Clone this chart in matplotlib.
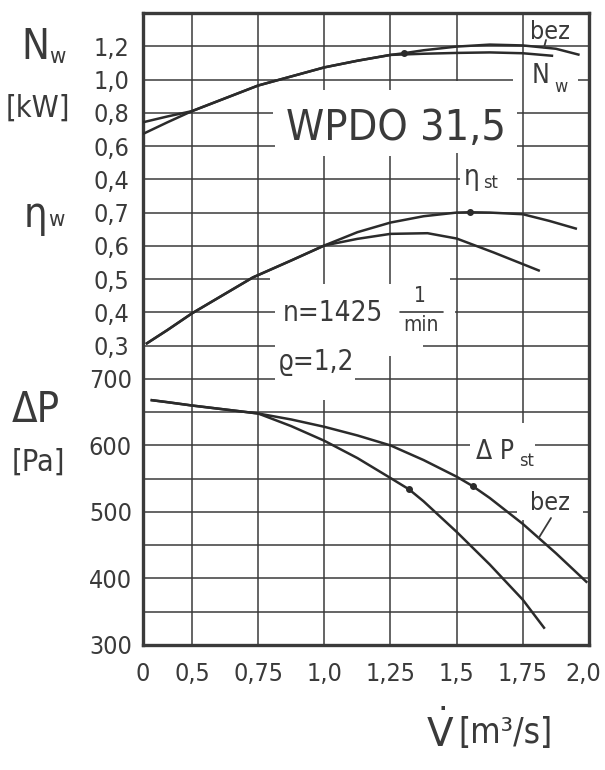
import os
import numpy as np
import matplotlib
matplotlib.use("Agg")
import matplotlib.pyplot as plt
import matplotlib.transforms as mtrans
from matplotlib import font_manager as fm

# ---------------- data ----------------
x_ticks = [0, 0.5, 0.75, 1.0, 1.25, 1.5, 1.75, 2.0]
x_tick_labels = ["0", "0,5", "0,75", "1,0", "1,25", "1,5", "1,75", "2,0"]

n_ticks = [0.4, 0.6, 0.8, 1.0, 1.2]
n_tick_labels = ["0,4", "0,6", "0,8", "1,0", "1,2"]
eta_ticks = [0.3, 0.4, 0.5, 0.6, 0.7]
eta_tick_labels = ["0,3", "0,4", "0,5", "0,6", "0,7"]
dp_ticks = [300, 400, 500, 600, 700]
dp_tick_labels = ["300", "400", "500", "600", "700"]

# power N_w [kW]
V_n_bez = [0.0, 0.25, 0.5, 0.75, 1.0, 1.125, 1.25, 1.3, 1.375, 1.5, 1.625, 1.75, 1.875, 1.96]
N_bez = [0.673, 0.743, 0.81, 0.964, 1.073, 1.113, 1.148, 1.158, 1.176, 1.198, 1.210, 1.205, 1.185, 1.150]
V_n = [0.0, 0.25, 0.5, 0.75, 1.0, 1.125, 1.25, 1.375, 1.5, 1.625, 1.75, 1.86]
N_w = [0.743, 0.778, 0.81, 0.964, 1.073, 1.113, 1.148, 1.155, 1.160, 1.163, 1.158, 1.143]

# efficiency
V_eta_st = [0.04, 0.25, 0.5, 0.73, 0.875, 1.0, 1.125, 1.25, 1.375, 1.5, 1.55, 1.625, 1.75, 1.85, 1.95]
eta_st = [0.307, 0.347, 0.397, 0.505, 0.556, 0.601, 0.641, 0.670, 0.689, 0.700, 0.701, 0.700, 0.695, 0.675, 0.652]
V_eta = [0.04, 0.25, 0.5, 0.73, 0.875, 1.0, 1.125, 1.25, 1.39, 1.5, 1.64, 1.81]
eta_w = [0.307, 0.347, 0.397, 0.505, 0.556, 0.601, 0.621, 0.636, 0.638, 0.622, 0.580, 0.526]

# pressure [Pa]
V_dp_bez = [0.09, 0.25, 0.5, 0.75, 0.875, 1.0, 1.125, 1.25, 1.375, 1.5, 1.56, 1.625, 1.75, 1.875, 1.99]
dp_bez = [668, 665, 660, 648, 639, 628, 615, 600, 578, 553, 539, 521, 482, 438, 395]
V_dp_st = [0.09, 0.25, 0.5, 0.75, 0.875, 1.0, 1.125, 1.25, 1.32, 1.375, 1.5, 1.625, 1.75, 1.83]
dp_st = [668, 665, 660, 648, 629, 607, 581, 551, 534, 516, 470, 421, 368, 326]

# ---------------- fonts ----------------
def find_font():
    prefs = ["dejavusanscondensed.ttf", "liberationsansnarrow-regular.ttf",
             "robotocondensed-regular.ttf", "roboto_condensed-regular.ttf"]
    files = set(f.fname for f in fm.fontManager.ttflist)
    try:
        files |= set(fm.findSystemFonts())
    except Exception:
        pass
    by = {os.path.basename(p).lower(): p for p in files}
    for p in prefs:
        if p in by:
            return by[p]
    return None

FONT_FILE = find_font()

def fp(size):
    if FONT_FILE:
        return fm.FontProperties(fname=FONT_FILE, size=size)
    return fm.FontProperties(family="DejaVu Sans", stretch="condensed", size=size)

INK = "#3a3a3a"
LINE = "#2b2b2b"
W, H = 605, 770

fig = plt.figure(figsize=(W / 100, H / 100), dpi=100)
fig.patch.set_facecolor("white")
rect = [143 / W, 1 - 645 / H, (589 - 143) / W, (645 - 13) / H]

def fwd(v):
    v = np.asarray(v, dtype=float)
    return np.where(v < 0.5, v * 0.37, v - 0.315)

def inv(u):
    u = np.asarray(u, dtype=float)
    return np.where(u < 0.185, u / 0.37, u + 0.315)

ax_p = fig.add_axes(rect)
ax_p.set_xscale("function", functions=(fwd, inv))
ax_p.set_xlim(0, 2.0)
ax_p.set_ylim(300, 1250)
ax_eta = fig.add_axes(rect, sharex=ax_p)
ax_eta.set_ylim(-0.6, 1.3)
ax_n = fig.add_axes(rect, sharex=ax_p)
ax_n.set_ylim(-2.4, 1.4)

for a in (ax_eta, ax_n):
    a.patch.set_visible(False)
    for s in a.spines.values():
        s.set_visible(False)
    a.tick_params(axis="x", bottom=False, labelbottom=False)
    a.tick_params(axis="y", length=0, pad=10, colors=INK)

for s in ax_p.spines.values():
    s.set_linewidth(2.4)
    s.set_color(INK)
ax_p.tick_params(axis="both", length=0, colors=INK)
ax_p.tick_params(axis="y", pad=8)
ax_p.tick_params(axis="x", pad=12)

TICK = 18
ax_p.set_xticks(x_ticks, x_tick_labels, fontproperties=fp(TICK))
ax_p.set_yticks(dp_ticks, dp_tick_labels, fontproperties=fp(TICK))
ax_eta.set_yticks(eta_ticks, eta_tick_labels, fontproperties=fp(TICK))
ax_n.set_yticks(n_ticks, n_tick_labels, fontproperties=fp(TICK))
last = ax_p.get_xticklabels()[-1]
last.set_transform(last.get_transform() + mtrans.ScaledTranslation(-0.06, 0, fig.dpi_scale_trans))

# ---------------- grid with gaps behind labels ----------------
def segments(lo, hi, gaps):
    out, cur = [], lo
    for a, b in sorted(gaps):
        out.append((cur, a))
        cur = b
    out.append((cur, hi))
    return out

hgaps = {1150: [(1.713, 1.958)], 1100: [(0.806, 1.728)], 1050: [(0.814, 1.728)],
         1000: [(1.512, 1.728)], 850: [(0.795, 1.475)], 800: [(0.814, 1.494)],
         750: [(0.814, 1.373)], 700: [(0.814, 1.116)], 600: [(1.55, 1.796)],
         500: [(1.728, 1.977)]}
vgaps = {1.0: [(668, 843), (1035, 1135)], 1.25: [(735, 843), (1035, 1135)],
         1.5: [(1039, 1148)], 1.75: [(488, 633)]}

for k in range(1, 19):
    y = 300 + 50 * k
    for a, b in segments(0, 2.0, hgaps.get(y, [])):
        ax_p.hlines(y, a, b, color=INK, lw=1.1, zorder=1)
for xv in x_ticks[1:-1]:
    for a, b in segments(300, 1250, vgaps.get(xv, [])):
        ax_p.vlines(xv, a, b, color=INK, lw=1.1, zorder=1)

# ---------------- curves ----------------
lw = 1.8
ax_n.plot(V_n_bez, N_bez, color=LINE, lw=lw, marker="o", ms=4, markevery=[7])
ax_n.plot(V_n, N_w, color=LINE, lw=lw)
ax_eta.plot(V_eta_st, eta_st, color=LINE, lw=lw, marker="o", ms=4, markevery=[10])
ax_eta.plot(V_eta, eta_w, color=LINE, lw=lw)
ax_p.plot(V_dp_bez, dp_bez, color=LINE, lw=lw, marker="o", ms=4, markevery=[10], zorder=3)
ax_p.plot(V_dp_st, dp_st, color=LINE, lw=lw, marker="o", ms=4, markevery=[8], zorder=3)

# ---------------- texts ----------------
def ftxt(x, y, s, size, ha="center", va="center"):
    fig.text(x / W, 1 - y / H, s, fontproperties=fp(size), color=INK, ha=ha, va=va)

# left axis titles
ftxt(35, 47, "N", 30)
ftxt(57, 57, "w", 16)
ftxt(38, 108, "[kW]", 22)
ftxt(35, 215, "η", 30)
ftxt(56, 220, "w", 16)
ftxt(36, 410, "ΔP", 30)
ftxt(38, 462, "[Pa]", 22)

# in-plot labels
ftxt(396, 128, "WPDO 31,5", 31)
ftxt(333, 313, "n=1425", 20)
ftxt(420, 296, "1", 15)
ftxt(421, 325, "min", 15)
ax_p.annotate("", xy=(443 / W, 1 - 312 / H), xytext=(400 / W, 1 - 312 / H),
              xycoords="figure fraction", textcoords="figure fraction",
              arrowprops=dict(arrowstyle="-", lw=1.2, color=INK, shrinkA=0, shrinkB=0))
ftxt(316, 362, "ϱ=1,2", 20)
ftxt(472, 177, "η", 20)
ftxt(491, 183, "st", 13)
ftxt(550, 32, "bez", 18)
ftxt(541, 76, "N", 19)
ftxt(561, 87, "w", 13)
ftxt(495, 452, "Δ P", 19)
ftxt(526, 461, "st", 13)
ftxt(550, 503, "bez", 18)

# pointers from the "bez" labels to their curves
arrow = dict(arrowstyle="-", lw=1.3, color=INK, shrinkA=0, shrinkB=0)
ax_p.annotate("", xy=(1.81, np.interp(1.81, V_dp_bez, dp_bez)), xytext=(551 / W, 1 - 518 / H),
              textcoords="figure fraction", arrowprops=arrow)
ax_n.annotate("", xy=(1.83, np.interp(1.83, V_n_bez, N_bez)), xytext=(546 / W, 1 - 40 / H),
              textcoords="figure fraction", arrowprops=arrow)

# x axis title
fig.text(440 / W, 1 - 733 / H, r"$\dot{\mathrm{V}}$", fontsize=28, color=INK,
         ha="center", va="center")
ftxt(505, 733, "[m³/s]", 25)

fig.savefig("out.png", dpi=100, facecolor="white")
